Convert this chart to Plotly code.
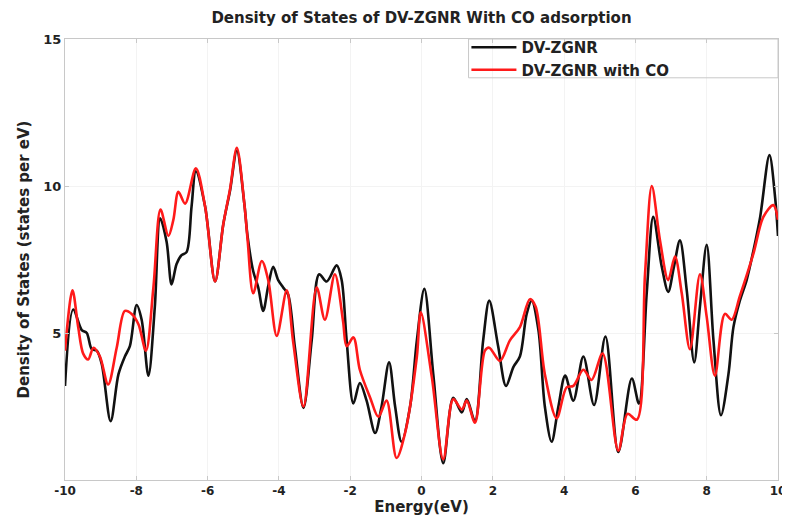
import plotly.graph_objects as go

# Energy (eV) and DOS for pristine DV-ZGNR
e_pristine = [-10, -9.77, -9.53, -9.39, -9.25, -9.11, -8.97, -8.72, -8.5, -8.32, -8.18, -7.99, -7.85,
              -7.66, -7.48, -7.33, -7.15, -7.01, -6.87, -6.73, -6.59, -6.45, -6.33, -6.07, -5.79, -5.56,
              -5.37, -5.18, -4.97, -4.88, -4.72, -4.58, -4.44, -4.3, -4.16, -4.02, -3.88, -3.74, -3.55,
              -3.31, -3.08, -2.87, -2.66, -2.38, -2.24, -2.1, -1.91, -1.73, -1.54, -1.3, -1.12, -0.91,
              -0.74, -0.56, -0.32, -0.13, 0.08, 0.33, 0.61, 0.89, 1.13, 1.27, 1.5, 1.73, 1.9, 2.15, 2.37,
              2.58, 2.76, 2.95, 3.09, 3.28, 3.46, 3.65, 3.84, 4.03, 4.26, 4.54, 4.84, 5.16, 5.52, 5.9,
              6.1, 6.32, 6.5, 6.74, 6.92, 7.08, 7.25, 7.44, 7.65, 7.81, 8.0, 8.19, 8.4, 8.61, 8.75, 8.93,
              9.12, 9.31, 9.5, 9.76, 9.92, 10]
dos_pristine = [3.2, 5.8, 5.1, 5.0, 4.45, 4.4, 3.95, 2.0, 3.6, 4.2, 4.55, 5.95, 5.45,
                3.55, 5.9, 8.9, 8.1, 6.65, 7.35, 7.65, 7.75, 9.3, 10.5, 9.3, 6.75, 8.7,
                9.85, 11.2, 9.4, 8.3, 7.1, 6.55, 5.75, 6.6, 7.25, 6.8, 6.55, 6.3, 4.5,
                2.45, 4.75, 7.0, 6.75, 7.3, 6.8, 4.75, 2.6, 3.3, 2.7, 1.6, 2.5, 4.0,
                2.5, 1.3, 2.5, 4.75, 6.5, 3.6, 0.57, 2.8, 2.3, 2.75, 2.0, 4.75, 6.1, 4.55, 3.2,
                3.85, 4.2, 5.65, 6.1, 5.1, 2.5, 1.3, 2.5, 3.55, 2.7, 4.2, 2.55, 4.88, 0.95, 3.45,
                2.6, 6.4, 8.95, 7.25, 6.4, 7.25, 8.15, 6.45, 4.0, 5.9, 8.0, 4.75, 2.2, 3.6, 5.2, 6.1,
                6.8, 7.8, 8.95, 11.05, 9.6, 8.3]

# Energy (eV) and DOS for DV-ZGNR with CO adsorbed
e_co = [-10, -9.79, -9.63, -9.49, -9.35, -9.2, -9.02, -8.79, -8.55, -8.32, -8.13, -7.94, -7.73,
        -7.52, -7.32, -7.1, -6.96, -6.82, -6.63, -6.33, -6.07, -5.79, -5.56, -5.37, -5.18, -4.97,
        -4.88, -4.72, -4.48, -4.3, -4.06, -3.78, -3.6, -3.31, -2.94, -2.71, -2.43, -2.2, -2.1,
        -1.91, -1.73, -1.44, -1.21, -0.98, -0.7, -0.46, -0.13, -0.02, 0.29, 0.61, 0.89, 1.13,
        1.27, 1.5, 1.78, 1.9, 2.2, 2.48, 2.76, 3.04, 3.2, 3.46, 3.79, 4.07, 4.26, 4.54, 4.77,
        5.08, 5.52, 5.78, 6.04, 6.27, 6.46, 6.69, 6.92, 7.11, 7.3, 7.53, 7.81, 8.0, 8.23, 8.51,
        8.7, 8.93, 9.31, 9.59, 9.87, 10]
dos_co = [4.4, 6.45, 5.2, 4.3, 4.1, 4.5, 4.2, 3.25, 4.5, 5.75, 5.65, 5.3, 4.4,
          6.55, 9.2, 8.3, 8.85, 9.8, 9.4, 10.6, 9.3, 6.75, 8.7, 9.9, 11.3, 9.4,
          8.2, 6.35, 7.45, 6.8, 4.9, 6.45, 4.7, 2.5, 6.55, 5.45, 7.0, 5.4, 4.55,
          4.85, 3.75, 2.8, 2.15, 2.7, 0.75, 1.6, 4.2, 5.7, 3.5, 0.7, 2.75, 2.4,
          2.7, 1.95, 4.4, 4.5, 4.05, 4.75, 5.2, 6.15, 5.9, 3.6, 2.1, 3.15, 3.2, 3.75, 3.4,
          4.3, 1.0, 2.25, 2.05, 7.0, 10.0, 8.15, 6.8, 7.6, 6.35, 4.45, 7.0, 5.55, 3.55, 5.65,
          5.45, 6.25, 7.7, 8.95, 9.35, 8.85]

x_ticks = [-10, -8, -6, -4, -2, 0, 2, 4, 6, 8, 10]
y_ticks = [5, 10, 15]

FONT = "DejaVu Sans"
AXIS_GRAY = "#c8c8c8"
TXT = "#222222"

fig = go.Figure()
fig.add_trace(go.Scatter(x=e_pristine, y=dos_pristine, mode="lines", name="DV-ZGNR",
                         line=dict(color="#111111", width=2.6, shape="spline", smoothing=0.9)))
fig.add_trace(go.Scatter(x=e_co, y=dos_co, mode="lines", name="DV-ZGNR with CO",
                         line=dict(color="#ff1a1a", width=2.6, shape="spline", smoothing=0.9)))

# legend box
fig.add_shape(type="rect", xref="paper", yref="paper", x0=0.566, x1=1.0, y0=0.912, y1=1.0,
              line=dict(color=AXIS_GRAY, width=1), fillcolor="rgba(255,255,255,0)", layer="above")

# the page body adds an 8px offset, so the figure is 8px smaller than the window
fig.update_layout(
    width=782, height=508,
    margin=dict(l=57, r=12, t=31, b=36, autoexpand=False),
    paper_bgcolor="white", plot_bgcolor="white",
    font=dict(family=FONT, color=TXT),
    title=dict(text="Density of States of DV-ZGNR With CO adsorption", xref="paper", x=0.5,
               xanchor="center", y=0.981, yanchor="middle", automargin=False,
               font=dict(family=FONT, size=15, weight="bold", color=TXT)),
    showlegend=True,
    legend=dict(x=0.563, y=1.018, xanchor="left", yanchor="top", bgcolor="rgba(0,0,0,0)",
                borderwidth=0, itemwidth=45, tracegroupgap=0,
                font=dict(family=FONT, size=15, weight="bold", color=TXT)),
    xaxis=dict(range=[-10, 10], tickvals=x_ticks, ticktext=[str(t) for t in x_ticks],
               automargin=False,
               showgrid=True, gridcolor="#f3f3f3", zeroline=False,
               showline=True, linecolor=AXIS_GRAY, linewidth=1, mirror="ticks",
               ticks="inside", ticklen=4, tickcolor=AXIS_GRAY,
               tickfont=dict(family=FONT, size=12, weight="bold", color=TXT),
               title=dict(text="Energy(eV)", standoff=3,
                          font=dict(family=FONT, size=15, weight="bold", color=TXT))),
    yaxis=dict(range=[0, 15], tickvals=y_ticks, ticktext=[str(t) for t in y_ticks],
               automargin=False,
               showgrid=True, gridcolor="#f3f3f3", zeroline=False,
               showline=True, linecolor=AXIS_GRAY, linewidth=1, mirror="ticks",
               ticks="inside", ticklen=4, tickcolor=AXIS_GRAY,
               tickfont=dict(family=FONT, size=13, weight="bold", color=TXT),
               title=dict(text="Density of States (states per eV)", standoff=10,
                          font=dict(family=FONT, size=15, weight="bold", color=TXT))),
)

fig.write_html("out.html")
